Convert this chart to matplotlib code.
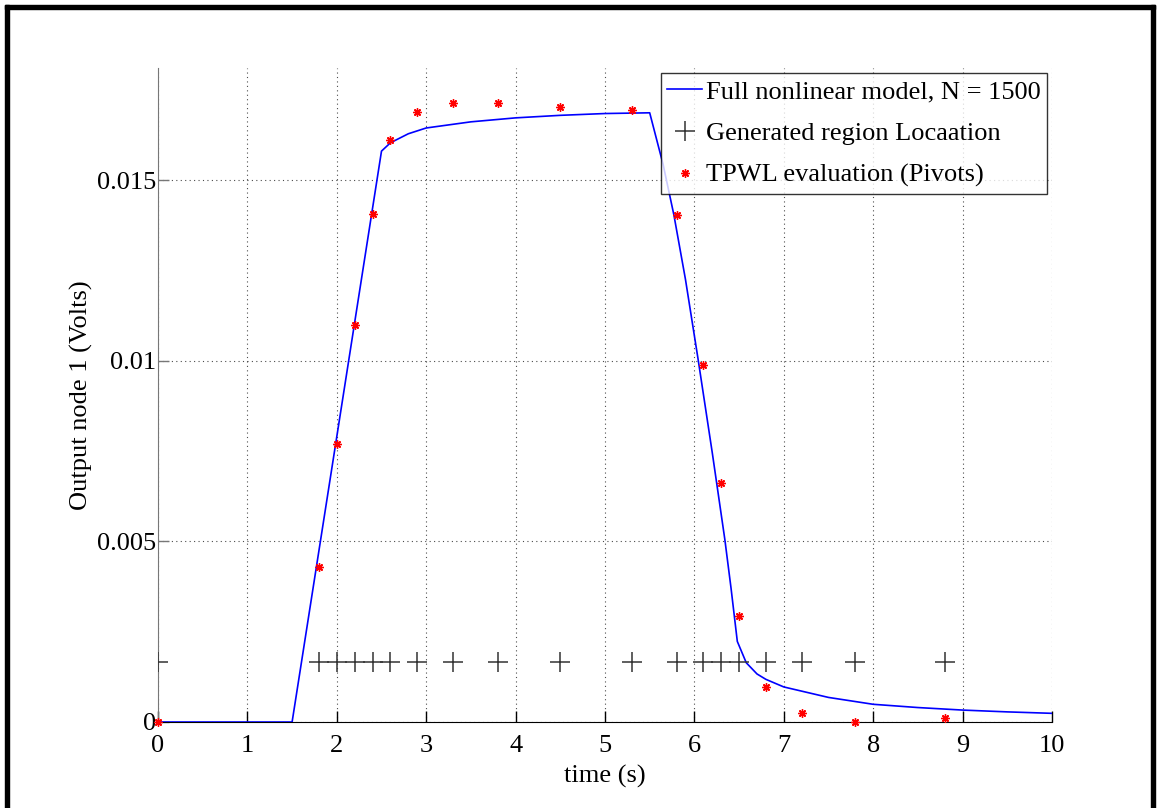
import matplotlib
matplotlib.use('Agg')
import matplotlib.pyplot as plt
from matplotlib.patches import Rectangle

# Full nonlinear model response
t_full = [0, 1.5, 2.50, 2.6, 2.8, 3.0, 3.5, 4.0, 4.5, 5.0, 5.5,
          5.65, 5.77, 5.9, 6.04, 6.2, 6.34, 6.41, 6.48, 6.58, 6.7,
          6.8, 7.0, 7.5, 8.0, 8.5, 9.0, 9.5, 10.0]
v_full = [0, 0, 0.01580, 0.01603, 0.01628, 0.01644, 0.01661, 0.01672,
          0.01679, 0.01684, 0.01686,
          0.01543, 0.01404, 0.01225, 0.01006, 0.00745, 0.00506, 0.00370,
          0.00223, 0.00164, 0.00133, 0.00118, 0.00097, 0.00068, 0.00049,
          0.00040, 0.00033, 0.00028, 0.00024]

# Region locations and TPWL pivots
t_piv = [0, 1.8, 2.0, 2.2, 2.4, 2.6, 2.9, 3.3, 3.8, 4.5, 5.3, 5.8,
         6.1, 6.3, 6.5, 6.8, 7.2, 7.8, 8.8]
v_piv = [0, 0.00428, 0.00769, 0.0110, 0.01406, 0.01612, 0.01688, 0.01713,
         0.01713, 0.01703, 0.01694, 0.01404, 0.00989, 0.00661, 0.00292,
         0.00097, 0.00025, 0.0, 0.0001]
region_level = 0.00167

plt.rcParams['font.family'] = 'Liberation Serif'
plt.rcParams['font.size'] = 19

fig = plt.figure(figsize=(11.59, 8.08), dpi=100)
ax = fig.add_axes([158 / 1159, 1 - 722 / 808, (1052 - 158) / 1159, (722 - 68) / 808])

ax.plot(t_full, v_full, color='blue', lw=1.2, label='Full nonlinear model, N = 1500', zorder=3)
ax.plot(t_piv, [region_level] * len(t_piv), ls='none', marker='+', ms=14, mew=1.1,
        color='#333333', label='Generated region Locaation', zorder=3)
ax.plot(t_piv, v_piv, ls='none', marker=(8, 2, 0), ms=6, mew=1.0,
        color='red', label='TPWL evaluation (Pivots)', zorder=4, clip_on=False)

ax.set_xlim(0, 10)
ax.set_ylim(0, 0.0181)
ax.set_xticks(range(0, 11))
ax.set_yticks([0, 0.005, 0.01, 0.015])
ax.set_yticklabels(['0', '0.005', '0.01', '0.015'])

ax.grid(True, ls=(0, (1, 3)), color='black', lw=0.8, alpha=0.7)
ax.spines['top'].set_visible(False)
ax.spines['right'].set_visible(False)
ax.spines['left'].set_color('#777777')
ax.spines['bottom'].set_color('black')
ax.tick_params(direction='in', length=8, width=1, labelsize=19)
ax.tick_params(axis='x', pad=9)
ax.tick_params(axis='y', colors='#777777', labelcolor='black', pad=1)

ax.set_xlabel('time (s)', fontsize=19, labelpad=6)
ax.set_ylabel('Output node 1 (Volts)', fontsize=19, labelpad=3)

leg = ax.legend(loc='upper right', bbox_to_anchor=(1.0 - 5 / 894, 1.0 - 5 / 654),
                frameon=True, fancybox=False, edgecolor='black', fontsize=19,
                handlelength=1.3, handletextpad=0.15, borderpad=0.25,
                labelspacing=0.7, borderaxespad=0, markerscale=1.0)
leg.get_frame().set_linewidth(1.0)

# thick black frame round the picture
fig.patches.append(Rectangle((5 / 1159, -0.1), 4 / 1159, 1.1 - 5 / 808,
                             transform=fig.transFigure, color='black', zorder=10))
fig.patches.append(Rectangle((5 / 1159, 1 - 9 / 808), 1150 / 1159, 4 / 808,
                             transform=fig.transFigure, color='black', zorder=10))
fig.patches.append(Rectangle((1151 / 1159, -0.1), 4 / 1159, 1.1 - 5 / 808,
                             transform=fig.transFigure, color='black', zorder=10))

fig.savefig('out.png', dpi=100)
